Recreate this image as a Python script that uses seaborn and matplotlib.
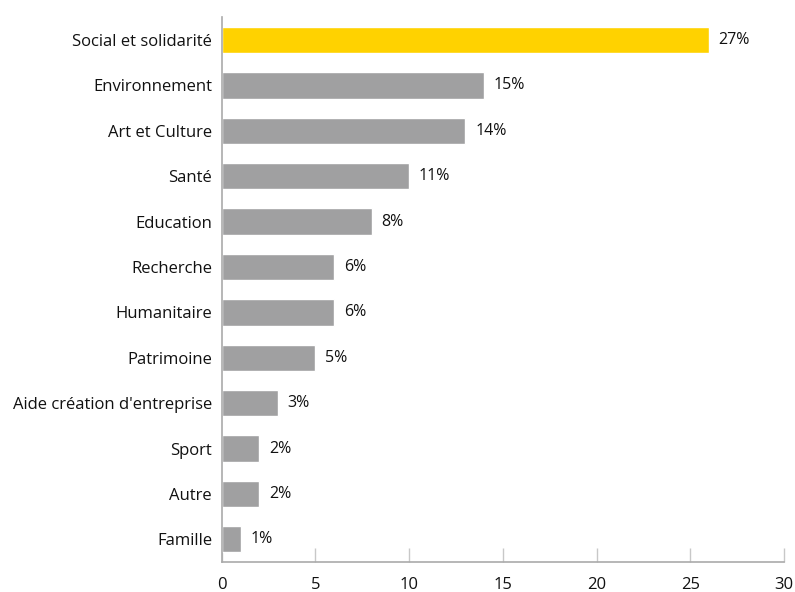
import matplotlib
matplotlib.use("Agg")
import matplotlib.pyplot as plt
import seaborn as sns
import pandas as pd

# Data
categories = ["Social et solidarité", "Environnement", "Art et Culture", "Santé",
              "Education", "Recherche", "Humanitaire", "Patrimoine",
              "Aide création d'entreprise", "Sport", "Autre", "Famille"]
values = [26, 14, 13, 10, 8, 6, 6, 5, 3, 2, 2, 1]
labels = ["27%", "15%", "14%", "11%", "8%", "6%", "6%", "5%", "3%", "2%", "2%", "1%"]
xticks = [0, 5, 10, 15, 20, 25, 30]

df = pd.DataFrame({"categorie": categories, "valeur": values})
palette = ["#FFD200"] + ["#A0A0A1"] * (len(categories) - 1)

sns.set_style("white")
plt.rcParams["font.family"] = ["Open Sans", "DejaVu Sans"]

fig = plt.figure(figsize=(7.95, 5.92), dpi=100)
ax = fig.add_axes([0.279, 0.0507, 0.707, 0.92])

sns.barplot(data=df, x="valeur", y="categorie", hue="categorie", palette=palette,
            legend=False, width=0.58, saturation=1, ax=ax)

for i, (v, lab) in enumerate(zip(values, labels)):
    ax.annotate(lab, (v, i), xytext=(7, 0), textcoords="offset points",
                va="center", ha="left", fontsize=11.5, color="#111111")

ax.set_xlim(0, 30)
ax.set_ylim(len(categories) - 0.5, -0.5)
ax.set_xticks(xticks)
ax.set_xlabel("")
ax.set_ylabel("")
ax.tick_params(axis="x", bottom=True, direction="in", length=10, width=1,
               color="#c8c8c8", pad=11, labelsize=12, labelcolor="#111111")
ax.tick_params(axis="y", left=False, length=0, pad=7, labelsize=12,
               labelcolor="#111111")

for side in ["top", "right"]:
    ax.spines[side].set_visible(False)
for side in ["left", "bottom"]:
    ax.spines[side].set_color("#aaaaaa")
    ax.spines[side].set_linewidth(1.2)

fig.savefig("out.png", dpi=100)
